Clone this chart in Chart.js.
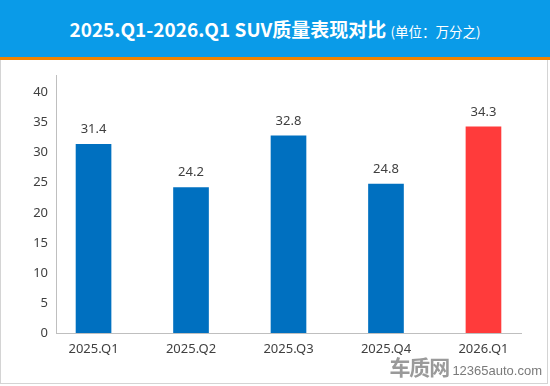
<!DOCTYPE html>
<html lang="zh-CN">
<head>
    <meta charset="UTF-8">
    <title>2025.Q1-2026.Q1 SUV质量表现对比</title>
    <script src="https://cdn.jsdelivr.net/npm/chart.js"></script>
    <style>
        html, body {
            margin: 0;
            padding: 0;
            width: 550px;
            height: 386px;
            overflow: hidden;
            background: #ffffff;
            font-family: "Noto Sans", "Noto Sans CJK SC", sans-serif;
        }
        .frame {
            position: absolute;
            left: 0;
            top: 0;
            width: 546px;
            height: 383px;
            border: 1px solid #d4d4d4;
            border-top: none;
            background: #ffffff;
        }
        .header {
            position: absolute;
            left: 0;
            top: 0;
            width: 550px;
            height: 57px;
            background-color: #0a9be8;
            border-bottom: 3px solid #f08300;
            color: #ffffff;
            text-align: center;
            line-height: 57px;
            white-space: nowrap;
        }
        .header .main {
            font-family: "Noto Sans CJK SC", sans-serif;
            font-weight: bold;
            font-size: 19px;
        }
        .header .unit {
            font-family: "Noto Sans CJK SC", sans-serif;
            font-size: 13.5px;
        }
        .chart-box {
            position: absolute;
            left: 1px;
            top: 60px;
            width: 546px;
            height: 324px;
        }
        .watermark {
            position: absolute;
            right: 8px;
            bottom: 5px;
            color: #8a8a8a;
            white-space: nowrap;
        }
        .watermark .logo {
            font-family: "Noto Sans CJK SC", sans-serif;
            font-weight: bold;
            font-size: 21px;
            color: #9a9a9a;
            letter-spacing: -1px;
        }
        .watermark .site {
            font-family: "Liberation Sans", sans-serif;
            font-size: 13px;
            color: #7a7a7a;
            margin-left: 3px;
        }
    </style>
</head>
<body>
    <div class="frame"></div>
    <div class="header">
        <span class="main">2025.Q1-2026.Q1 SUV质量表现对比</span>
        <span class="unit">(单位：万分之)</span>
    </div>
    <div class="chart-box">
        <canvas id="suvChart"></canvas>
    </div>
    <div class="watermark"><span class="logo">车质网</span><span class="site">12365auto.com</span></div>

    <script>
        // dados do gráfico
        const categories = ['2025.Q1', '2025.Q2', '2025.Q3', '2025.Q4', '2026.Q1'];
        const values = [31.4, 24.2, 32.8, 24.8, 34.3];
        const yTicks = [0, 5, 10, 15, 20, 25, 30, 35, 40];
        const barColors = ['#0070c0', '#0070c0', '#0070c0', '#0070c0', '#ff3b3b'];

        // rótulos acima das barras
        const valueLabels = {
            id: 'valueLabels',
            afterDatasetsDraw(chart) {
                const ctx = chart.ctx;
                const meta = chart.getDatasetMeta(0);
                ctx.save();
                ctx.font = '13px "Noto Sans", sans-serif';
                ctx.fillStyle = '#404040';
                ctx.textAlign = 'center';
                ctx.textBaseline = 'middle';
                meta.data.forEach((bar, i) => {
                    ctx.fillText(values[i].toFixed(1), bar.x, bar.y - 15);
                });
                ctx.restore();
            }
        };

        document.addEventListener('DOMContentLoaded', () => {
            const ctx = document.getElementById('suvChart').getContext('2d');
            new Chart(ctx, {
                type: 'bar',
                data: {
                    datasets: [{
                        data: values.map((v, i) => ({ x: i, y: v })),
                        backgroundColor: barColors,
                        barThickness: 35
                    }]
                },
                options: {
                    responsive: true,
                    maintainAspectRatio: false,
                    animation: false,
                    layout: {
                        padding: { left: 0, right: 26, top: 12, bottom: 0 }
                    },
                    plugins: {
                        legend: { display: false },
                        title: { display: false },
                        tooltip: { enabled: false }
                    },
                    scales: {
                        x: {
                            type: 'linear',
                            offset: false,
                            min: -0.385,
                            max: 4.385,
                            afterBuildTicks: (scale) => {
                                scale.ticks = categories.map((c, i) => ({ value: i }));
                            },
                            afterFit: (scale) => { scale.height = 51; },
                            grid: { display: false, drawTicks: false, offset: false },
                            border: { display: true, color: '#bfbfbf', width: 1 },
                            ticks: {
                                autoSkip: false,
                                maxRotation: 0,
                                padding: 8,
                                color: '#404040',
                                font: { family: 'Noto Sans', size: 13 },
                                callback: (v) => categories[v]
                            }
                        },
                        y: {
                            min: 0,
                            max: 42.8,
                            afterBuildTicks: (scale) => {
                                scale.ticks = yTicks.map(v => ({ value: v }));
                            },
                            afterFit: (scale) => { scale.width = 55; },
                            grid: { display: false, drawTicks: false },
                            border: { display: true, color: '#bfbfbf', width: 1 },
                            ticks: {
                                padding: 8,
                                color: '#404040',
                                font: { family: 'Noto Sans', size: 13 }
                            }
                        }
                    }
                },
                plugins: [valueLabels]
            });
        });
    </script>
</body>
</html>
